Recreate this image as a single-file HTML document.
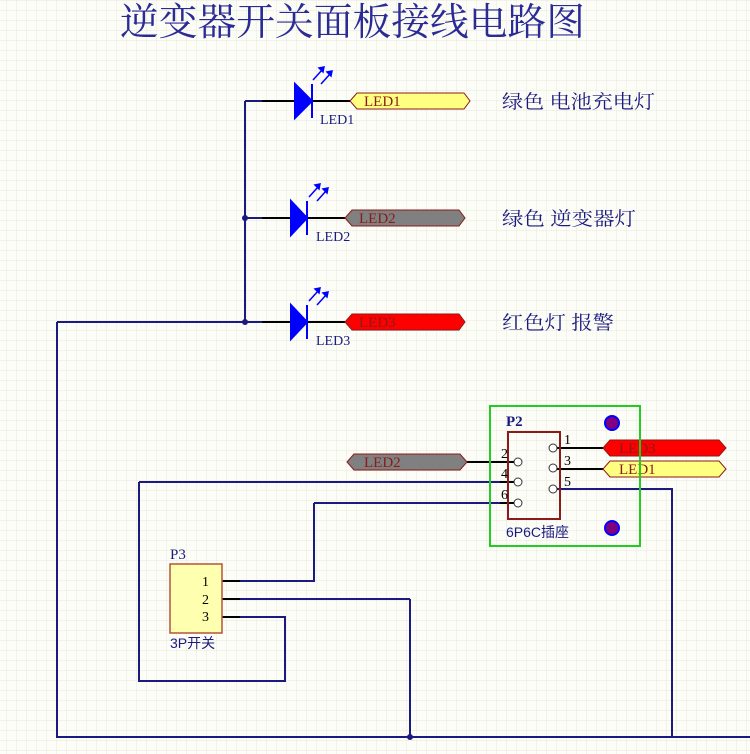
<!DOCTYPE html>
<html><head><meta charset="utf-8"><style>
html,body{margin:0;padding:0;background:#fdfdf8;}
svg{display:block;}
text{font-family:"Liberation Serif","Noto Serif CJK SC",serif;}
.cn{font-family:"Liberation Sans","Noto Sans CJK SC",sans-serif;}
</style></head><body>
<svg width="750" height="754" viewBox="0 0 750 754" xmlns="http://www.w3.org/2000/svg">
<defs>
<pattern id="g" width="10" height="10" patternUnits="userSpaceOnUse" x="7" y="1">
<path d="M10 0V10M0 10H10" fill="none" stroke="#e6e6dc" stroke-width="1"/>
</pattern>
</defs>
<rect width="750" height="754" fill="#fdfdf8"/>
<rect width="750" height="754" fill="url(#g)"/>
<text x="120" y="35" font-size="38" fill="#2b2b95" textLength="465" lengthAdjust="spacingAndGlyphs" style="font-family:'Noto Serif CJK SC',serif">逆变器开关面板接线电路图</text>

<g fill="none" stroke="#1a1a80" stroke-width="2">
<path d="M245 101V322"/>
<path d="M245 101H262M245 218H262M245 322H262"/>
<path d="M57 322H245M57 322V737H750M410 599V737M556 489H672V737"/>
<path d="M139 482H500M139 482V681H285V617H240"/>
<path d="M314 503H500M314 503V581H240"/>
<path d="M240 599H410"/>
</g>
<g stroke="#000" stroke-width="2">
<path d="M262 101H296M312 101H350"/>
<path d="M262 218H291M307 218H345"/>
<path d="M262 322H291M307 322H345"/>
<path d="M467 462H514M500 482H514M500 503H514"/>
<path d="M557 448H603M557 469H603"/>
<path d="M222 581H240M222 599H240M222 617H240"/>
</g>
<g fill="#1a1a80"><circle cx="245" cy="218" r="3"/><circle cx="245" cy="322" r="3"/><circle cx="410" cy="737" r="3"/></g>

<!-- LEDs -->
<g fill="#0000ff" stroke="#0000ff" stroke-width="2">
<path d="M295 84L312 101L295 118Z"/><path d="M312 84V118"/>
<path d="M291 201L307 218L291 235Z"/><path d="M307 201V235"/>
<path d="M291 305L307 322L291 339Z"/><path d="M307 305V339"/>
</g>
<g stroke="#0000ff" stroke-width="1.5" fill="#0000ff">
<path d="M313 80L322 70M321 84L330 74"/><path d="M324 67l-5 1 4 4z M332 71l-5 1 4 4z"/>
<path d="M309 197L318 187M317 201L326 191"/><path d="M320 184l-5 1 4 4z M328 188l-5 1 4 4z"/>
<path d="M309 301L318 291M317 305L326 295"/><path d="M320 288l-5 1 4 4z M328 292l-5 1 4 4z"/>
</g>
<g font-size="14" fill="#1a1a80">
<text x="320" y="124">LED1</text><text x="316" y="241">LED2</text><text x="316" y="345">LED3</text>
</g>

<!-- net labels -->
<g stroke="#8b1a1a" stroke-width="1">
<path d="M350 101L357 93H464L470 101L464 109H357Z" fill="#ffff80"/>
<path d="M345 218L352 210H459L465 218L459 226H352Z" fill="#808080"/>
<path d="M345 322L352 314H459L465 322L459 330H352Z" fill="#ff0000"/>
<path d="M347 462L354 454H460L467 462L460 470H354Z" fill="#808080"/>
<path d="M603 448L610 440H719L726 448L719 456H610Z" fill="#ff0000"/>
<path d="M603 469L610 461H719L726 469L719 477H610Z" fill="#ffff80"/>
</g>
<g font-size="15" fill="#8b1a1a">
<text x="364" y="106">LED1</text><text x="359" y="223">LED2</text><text x="359" y="327">LED3</text>
<text x="364" y="467">LED2</text><text x="619" y="453">LED3</text><text x="619" y="474">LED1</text>
</g>
<g font-size="19" fill="#1a1a80" class="cn">
<text x="502" y="108" textLength="153" lengthAdjust="spacingAndGlyphs">绿色 电池充电灯</text>
<text x="502" y="225" textLength="134" lengthAdjust="spacingAndGlyphs">绿色 逆变器灯</text>
<text x="502" y="329" textLength="112" lengthAdjust="spacingAndGlyphs">红色灯 报警</text>
</g>

<!-- P2 -->
<rect x="490" y="406" width="150" height="140" fill="none" stroke="#22cc22" stroke-width="2"/>
<circle cx="612" cy="423" r="7" fill="#800080" stroke="#0000ff" stroke-width="2"/>
<circle cx="612" cy="528" r="7" fill="#800080" stroke="#0000ff" stroke-width="2"/>
<rect x="508" y="432" width="52" height="87" fill="none" stroke="#8b1a1a" stroke-width="2"/>
<g fill="#fff" stroke="#333" stroke-width="1">
<circle cx="518" cy="462" r="4"/><circle cx="518" cy="482" r="4"/><circle cx="518" cy="503" r="4"/>
<circle cx="553" cy="448" r="4"/><circle cx="553" cy="468" r="4"/><circle cx="553" cy="489" r="4"/>
</g>
<g font-size="14" fill="#000">
<text x="564" y="444">1</text><text x="564" y="465">3</text><text x="564" y="486">5</text>
<text x="501" y="458">2</text><text x="501" y="478">4</text><text x="501" y="499">6</text>
</g>
<text x="506" y="426" font-size="15" fill="#1a1a80" font-weight="bold">P2</text>
<text x="506" y="537" font-size="14" fill="#1a1a80" class="cn">6P6C插座</text>

<!-- P3 -->
<rect x="170" y="564" width="52" height="69" fill="#ffffb0" stroke="#b5533a" stroke-width="1.5"/>
<text x="170" y="559" font-size="15" fill="#1a1a80">P3</text>
<g font-size="14" fill="#000"><text x="202" y="586">1</text><text x="202" y="604">2</text><text x="202" y="621">3</text></g>
<text x="170" y="648" font-size="14" fill="#1a1a80" class="cn">3P开关</text>
</svg>
</body></html>
